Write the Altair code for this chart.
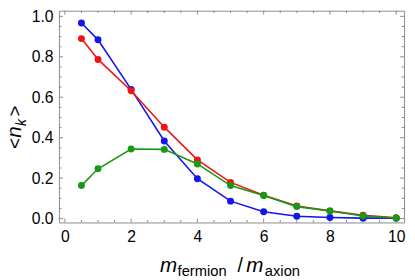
import altair as alt
import pandas as pd

# ---- data ----
x_vals = [0.5, 1, 2, 3, 4, 5, 6, 7, 8, 9, 10]
blue_vals = [0.967, 0.884, 0.639, 0.384, 0.197, 0.086, 0.034, 0.011, 0.005, 0.002, 0.002]
red_vals = [0.890, 0.787, 0.632, 0.452, 0.290, 0.179, 0.115, 0.062, 0.038, 0.016, 0.004]
green_vals = [0.163, 0.246, 0.344, 0.342, 0.270, 0.163, 0.114, 0.059, 0.037, 0.013, 0.003]

x_major = [0, 2, 4, 6, 8, 10]
x_minor = [0.5, 1, 1.5, 2.5, 3, 3.5, 4.5, 5, 5.5, 6.5, 7, 7.5, 8.5, 9, 9.5]
y_major = [0.0, 0.2, 0.4, 0.6, 0.8, 1.0]
y_minor = [0.05, 0.1, 0.15, 0.25, 0.3, 0.35, 0.45, 0.5, 0.55, 0.65, 0.7, 0.75,
           0.85, 0.9, 0.95]

x_domain = [-0.178, 10.237]
y_domain = [-0.0194, 1.028]

series = [("blue", blue_vals, "#1414ec"), ("red", red_vals, "#ec1414"),
          ("green", green_vals, "#159a15")]

FONT = "Liberation Sans"
FRAME = "#8a8a8a"
W, H = 352, 216

rows = []
for name, vals, col in series:
    for xv, yv in zip(x_vals, vals):
        rows.append({"x": xv, "y": yv, "series": name})
df = pd.DataFrame(rows)

xs = alt.Scale(domain=x_domain, nice=False, zero=False)
ys = alt.Scale(domain=y_domain, nice=False, zero=False)

AX = alt.Axis(orient="bottom", values=x_major, format="d", ticks=False, domain=False,
              labelFont=FONT, labelFontSize=16, labelColor="black", labelPadding=6,
              labelFlush=False, grid=False, title=None)
AY = alt.Axis(orient="left", values=y_major, format=".1f", ticks=False, domain=False,
              labelFont=FONT, labelFontSize=16, labelColor="black", labelPadding=6,
              labelFlush=False, grid=False, title=None)


# ---- frame ticks (inward), positioned by the shared scales ----
def xticks(vals, y0, y1):
    return alt.Chart(pd.DataFrame({"x": vals})).mark_rule(color=FRAME, strokeWidth=1).encode(
        x=alt.X("x:Q", scale=xs, axis=AX), y=alt.value(y0), y2=alt.value(y1))


def yticks(vals, x0, x1):
    return alt.Chart(pd.DataFrame({"y": vals})).mark_rule(color=FRAME, strokeWidth=1).encode(
        y=alt.Y("y:Q", scale=ys, axis=AY), x=alt.value(x0), x2=alt.value(x1))


tick_layers = [
    xticks(x_major, H, H - 4), xticks(x_minor, H, H - 2.5),
    xticks(x_major, 0, 4), xticks(x_minor, 0, 2.5),
    yticks(y_major, 0, 4), yticks(y_minor, 0, 2.5),
    yticks(y_major, W, W - 4), yticks(y_minor, W, W - 2.5),
]

# ---- main data layers ----
main_layers = []
for name, vals, col in series:
    sub = df[df["series"] == name]
    enc = dict(x=alt.X("x:Q", scale=xs, axis=AX), y=alt.Y("y:Q", scale=ys, axis=AY))
    main_layers.append(alt.Chart(sub).mark_line(color=col, strokeWidth=1.6).encode(**enc))
    main_layers.append(alt.Chart(sub).mark_point(
        color=col, filled=True, opacity=1, size=50).encode(**enc))

# ---- axis titles (rich text pieces) ----
one = pd.DataFrame({"a": [0]})


def txt(s, x, y, size, italic=False, angle=0):
    return alt.Chart(one).mark_text(
        text=s, font=FONT, fontSize=size, fontStyle="italic" if italic else "normal",
        align="left", baseline="alphabetic", angle=angle, color="black"
    ).encode(x=alt.value(x), y=alt.value(y))


titles = [
    txt("m", 103, 267, 21, True),
    txt("fermion", 121, 270.5, 15),
    txt("/", 182, 267, 20),
    txt("m", 191, 267, 21, True),
    txt("axion", 210, 270.5, 15),
    txt("<", -39, 141, 19, False, 270),
    txt("n", -39, 129.5, 21, True, 270),
    txt("k", -34, 117.5, 14, True, 270),
    txt(">", -39, 108, 19, False, 270),
]

chart = alt.layer(*tick_layers, *main_layers, *titles).properties(
    width=W, height=H,
    autosize=alt.AutoSizeParams(type="none"),
    padding={"left": 52, "top": 0, "right": 3, "bottom": 60},
).configure_view(stroke=FRAME, strokeWidth=1)

chart.save("out.html", embed_options={"renderer": "svg", "actions": False})
